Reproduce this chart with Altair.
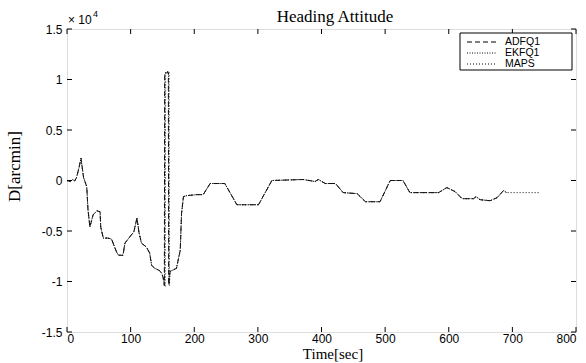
import altair as alt
import pandas as pd

# ---------------- data ----------------
series_names = ["ADFQ1", "EKFQ1", "MAPS"]

# common track before the heading wrap (t in s, D in arcmin)
pre_t = [0, 5, 9, 12, 15, 19, 22, 26, 31, 33, 36, 41, 47, 52, 53, 57, 64, 70, 78, 81, 88,
         91, 96, 101, 105, 110, 113, 117, 125, 130, 133, 138, 145, 149, 151]
pre_d = [0, -100, 100, -50, 300, 1300, 2200, 300, -600, -2900, -4600, -3400, -3000, -3100,
         -4600, -5700, -5700, -5800, -7100, -7400, -7400, -6200, -5800, -5400, -5100, -3700,
         -5100, -6200, -6600, -7200, -8400, -8700, -8900, -9200, -9600]

# wrap-around spike (+/-180 deg) for each estimator
adfq_spike_t = [153.0, 153.5, 159.3, 159.8]
adfq_spike_d = [-10400, 10600, 10700, -10300]
ekfq_spike_t = [153.3, 153.8, 159.6, 160.1]
ekfq_spike_d = [-10450, 10650, 10750, -10350]
maps_spike_t = [154.5, 155.0, 160.5, 161.0]
maps_spike_d = [-10500, 10750, 10800, -10400]

# common track after the wrap
post_t = [162, 172, 178, 180, 183, 188, 204, 214, 225, 248, 267, 301, 322, 371, 390, 395,
          406, 422, 434, 456, 469, 492, 508, 528, 539, 584, 597, 610, 621, 639, 643, 649,
          665, 676, 686, 691]
post_d = [-9000, -8700, -6900, -3300, -1600, -1500, -1400, -1400, -300, -300, -2400, -2400,
          0, 100, -100, 100, -300, -300, -1200, -1300, -2100, -2100, 0, 0, -1200, -1200,
          -700, -1100, -1800, -1800, -1600, -1900, -2000, -1700, -1000, -1200]

# MAPS keeps running after the other two stop
maps_tail_t = [700, 720, 744]
maps_tail_d = [-1200, -1200, -1200]

x_ticks = [0, 100, 200, 300, 400, 500, 600, 700, 800]
y_ticks = [-15000, -10000, -5000, 0, 5000, 10000, 15000]

# ---------------- table ----------------
rows = []
for name, st, sd, tt, td in [
    ("ADFQ1", adfq_spike_t, adfq_spike_d, [], []),
    ("EKFQ1", ekfq_spike_t, ekfq_spike_d, [], []),
    ("MAPS", maps_spike_t, maps_spike_d, maps_tail_t, maps_tail_d),
]:
    for t, d in zip(pre_t + st + post_t + tt, pre_d + sd + post_d + td):
        rows.append({"series": name, "t": t, "D": d})
df = pd.DataFrame(rows)

W, H = 509, 303
SERIF = "Liberation Serif"
SANS = "Liberation Sans"
dashes = [[5, 3], [1, 1.5], [1, 2]]

dash_scale = alt.Scale(domain=series_names, range=dashes)

xs = alt.Scale(domain=[0, 800], nice=False)
ys = alt.Scale(domain=[-15000, 15000], nice=False)

lines = alt.Chart(df).mark_line(color="#111111", strokeWidth=1, clip=True).encode(
    x=alt.X("t:Q", scale=xs, title=None,
            axis=alt.Axis(values=x_ticks, domain=False, ticks=False, grid=False,
                          labelFont=SANS, labelFontSize=12, labelColor="black",
                          labelPadding=1)),
    y=alt.Y("D:Q", scale=ys, title="D[arcmin]",
            axis=alt.Axis(values=y_ticks, domain=False, ticks=False, grid=False,
                          labelExpr="datum.value / 10000",
                          labelFont=SANS, labelFontSize=12, labelColor="black",
                          labelPadding=5, titleFont=SERIF, titleFontSize=17,
                          titleFontWeight="normal", titleColor="black",
                          titleX=-48, titleY=137, titleBaseline="alphabetic")),
    strokeDash=alt.StrokeDash("series:N", scale=dash_scale, legend=None),
    detail="series:N",
)

xt = pd.DataFrame({"v": x_ticks})
yt = pd.DataFrame({"v": y_ticks})
tick_bottom = alt.Chart(xt).mark_rule(color="black", strokeWidth=1).encode(
    x=alt.X("v:Q", scale=xs), y=alt.value(H), y2=alt.value(H - 5))
tick_top = alt.Chart(xt).mark_rule(color="black", strokeWidth=1).encode(
    x=alt.X("v:Q", scale=xs), y=alt.value(0), y2=alt.value(5))
tick_left = alt.Chart(yt).mark_rule(color="black", strokeWidth=1).encode(
    y=alt.Y("v:Q", scale=ys), x=alt.value(0), x2=alt.value(5))
tick_right = alt.Chart(yt).mark_rule(color="black", strokeWidth=1).encode(
    y=alt.Y("v:Q", scale=ys), x=alt.value(W), x2=alt.value(W - 5))

# title, x-axis title and exponent label "x 10^4"
title_txt = alt.Chart(pd.DataFrame({"s": ["Heading Attitude"]})).mark_text(
    font=SERIF, fontSize=17, align="center", baseline="alphabetic", color="black").encode(
    x=alt.value(268), y=alt.value(-7), text="s:N")
xtitle_txt = alt.Chart(pd.DataFrame({"s": ["Time[sec]"]})).mark_text(
    font=SERIF, fontSize=15, align="center", baseline="alphabetic", color="black").encode(
    x=alt.value(266), y=alt.value(H + 27), text="s:N")
exp_base = alt.Chart(pd.DataFrame({"s": ["× 10"]})).mark_text(
    font=SANS, fontSize=12, align="left", baseline="middle", color="black").encode(
    x=alt.value(1), y=alt.value(-9), text="s:N")
exp_pow = alt.Chart(pd.DataFrame({"s": ["4"]})).mark_text(
    font=SANS, fontSize=9, align="left", baseline="middle", color="black").encode(
    x=alt.value(26), y=alt.value(-15), text="s:N")

# legend box
LX0, LY0, LX1, LY1 = 393, 4, 505, 41
leg_layers = [alt.Chart(pd.DataFrame({"a": [0]})).mark_rect(
    fill="white", stroke="black", strokeWidth=1).encode(
    x=alt.value(LX0), x2=alt.value(LX1), y=alt.value(LY0), y2=alt.value(LY1))]
for i, name in enumerate(series_names):
    yy = LY0 + 9 + i * 11
    leg_layers.append(alt.Chart(pd.DataFrame({"a": [0]})).mark_rule(
        color="black", strokeWidth=1, strokeDash=dashes[i]).encode(
        x=alt.value(LX0 + 7), x2=alt.value(LX0 + 37), y=alt.value(yy)))
    leg_layers.append(alt.Chart(pd.DataFrame({"s": [name]})).mark_text(
        font=SANS, fontSize=10.5, align="left", baseline="middle", color="black").encode(
        x=alt.value(LX0 + 45), y=alt.value(yy), text="s:N"))

chart = alt.layer(lines, tick_bottom, tick_top, tick_left, tick_right,
                  title_txt, xtitle_txt, exp_base, exp_pow, *leg_layers).properties(
    width=W, height=H,
    autosize=alt.AutoSizeParams(type="none"),
    padding={"left": 67, "top": 29, "right": 10, "bottom": 31},
).configure_view(stroke="black", strokeWidth=1).configure(background="white")

chart.save("out.html", embed_options={"renderer": "svg", "actions": False})
